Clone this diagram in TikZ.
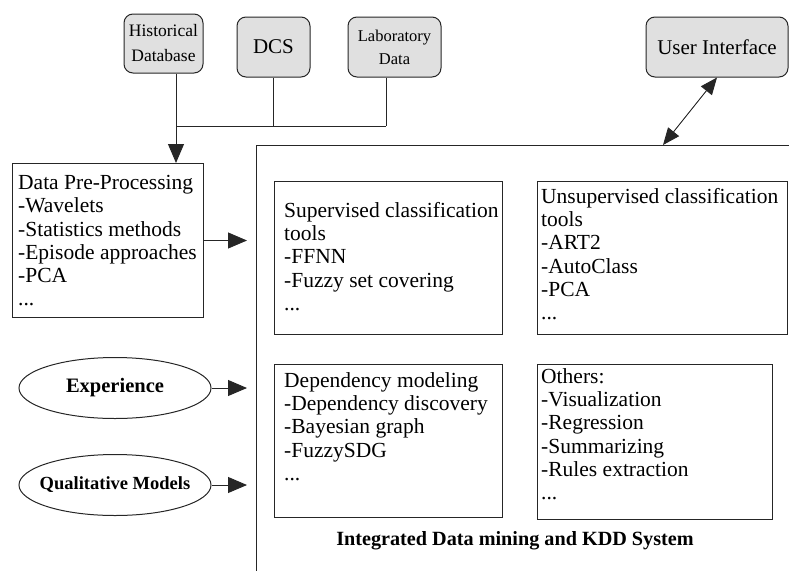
\documentclass[tikz,border=0pt]{standalone}
\usepackage{fontspec}
\setmainfont{Liberation Serif}
\usetikzlibrary{arrows.meta,shapes.geometric}

\newcommand{\bodysize}{\fontsize{21.5}{23.3}\selectfont}

\begin{document}
\begin{tikzpicture}[x=1pt,y=-1pt,
  wire/.style={draw=black!85, line width=0.9pt},
  arr/.style={wire, -{Triangle[length=19pt,width=16pt]}},
  dblarr/.style={wire, {Triangle[length=17pt,width=14pt]}-{Triangle[length=17pt,width=14pt]}},
  source/.style={draw=black!85, line width=1pt, fill=black!12, rounded corners=9pt,
    inner sep=0pt, align=center},
  toolbox/.style={draw=black!85, line width=1pt, anchor=north west, inner sep=0pt},
  listtext/.style={anchor=north west, inner sep=0pt, align=left, font=\bodysize},
  knowledge/.style={ellipse, draw=black!85, line width=1pt, inner sep=0pt,
    minimum width=192pt, minimum height=61pt},
]
\useasboundingbox (0,0) rectangle (789,571);

% data sources
\node[source, minimum width=79pt, minimum height=59pt, font=\fontsize{17.5}{25}\selectfont]
  (hist) at (163.5,43.5) {Historical\\Database};
\node[source, minimum width=73pt, minimum height=60pt, font=\fontsize{21}{25}\selectfont]
  (dcs) at (273.5,47) {DCS};
\node[source, minimum width=93pt, minimum height=60pt, font=\fontsize{16.5}{23}\selectfont]
  (lab) at (394.5,47) {Laboratory\\Data};
\node[source, minimum width=142pt, minimum height=60pt, font=\fontsize{21}{25}\selectfont]
  (ui) at (717,47) {User Interface};

% pre-processing
\node[toolbox, minimum width=191pt, minimum height=154pt] (pre) at (12,163) {};
\node[listtext] (pretext) at ([xshift=6pt,yshift=-12pt]pre.north west)
  {Data Pre-Processing\\-Wavelets\\-Statistics methods\\-Episode approaches\\-PCA\\...};

% prior knowledge
\node[knowledge, font=\bfseries\fontsize{20.5}{24}\selectfont] (exp) at (115,388)
  {\makebox[0pt]{Experience}};
\node[knowledge, font=\bfseries\fontsize{18.5}{22}\selectfont] (qual) at (115,485)
  {\makebox[0pt]{Qualitative Models}};

% integrated system frame
\coordinate (fnw) at (256,145);
\draw[wire] (789,145) -- (fnw) -- (256,571);

\node[toolbox, minimum width=228pt, minimum height=153pt] (sup) at (274,181) {};
\node[listtext] (suptext) at ([xshift=10pt,yshift=-21pt]sup.north west)
  {Supervised classification\\tools\\-FFNN\\-Fuzzy set covering\\...};

\node[toolbox, minimum width=250pt, minimum height=153pt] (unsup) at (537,181) {};
\node[listtext] (unsuptext) at ([xshift=4pt,yshift=-7pt]unsup.north west)
  {Unsupervised classification\\tools\\-ART2\\-AutoClass\\-PCA\\...};

\node[toolbox, minimum width=228pt, minimum height=153pt] (dep) at (274,364) {};
\node[listtext] (deptext) at ([xshift=10pt,yshift=-8pt]dep.north west)
  {Dependency modeling\\-Dependency discovery\\-Bayesian graph\\-FuzzySDG\\...};

\node[toolbox, minimum width=235pt, minimum height=155pt] (oth) at (537,364) {};
\node[listtext] (othtext) at ([xshift=4pt,yshift=-4pt]oth.north west)
  {Others:\\-Visualization\\-Regression\\-Summarizing\\-Rules extraction\\...};

\node[font=\bfseries\fontsize{20.2}{24}\selectfont] (title) at (515,541)
  {Integrated Data mining and KDD System};

% source bus and connectors
\coordinate (bus) at (176,126);
\coordinate (labdrop) at (386,126);
\coordinate (inA) at (247,240);
\coordinate (uiport) at (663,145);
\draw[wire] (hist.south -| bus) -- (bus);
\draw[wire] (dcs.south) -- (dcs.south |- bus);
\draw[wire] (lab.south -| labdrop) -- (labdrop);
\draw[wire] (bus) -- (labdrop);
\draw[arr] (bus) -- (bus |- pre.north);

% inputs to the system
\draw[arr] (pre.east) -- (pre.east -| inA);
\draw[arr] (exp.east) -- (exp.east -| inA);
\draw[arr] (qual.east) -- (qual.east -| inA);
\draw[dblarr] (ui.south) -- (uiport);
\end{tikzpicture}
\end{document}
